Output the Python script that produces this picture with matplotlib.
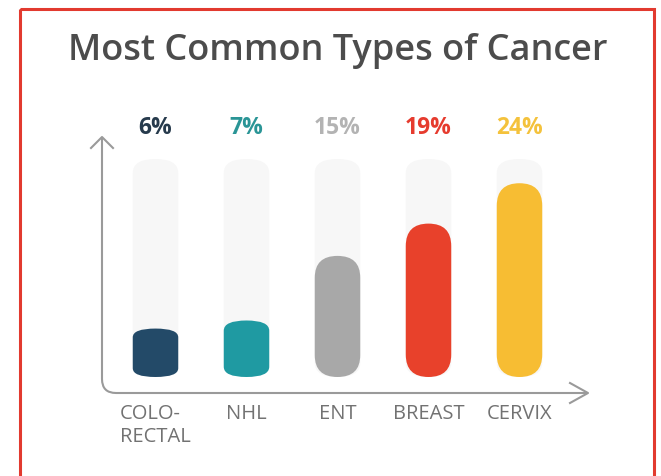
import matplotlib.pyplot as plt
from matplotlib.patches import FancyBboxPatch, Rectangle, PathPatch
from matplotlib.path import Path

categories = ["COLO-\nRECTAL", "NHL", "ENT", "BREAST", "CERVIX"]
values = [6, 7, 15, 19, 24]
labels = ["6%", "7%", "15%", "19%", "24%"]
track_max = 27

bar_colors = ["#234a68", "#1f9aa2", "#a8a8a8", "#e8412b", "#f7bd33"]
label_colors = ["#263a4c", "#2a9596", "#b3b3b3", "#e63b2e", "#f4c23c"]

W, H = 661, 477
fig = plt.figure(figsize=(W / 100, H / 100), dpi=100)
fig.patch.set_facecolor("white")

# overlay in pixel coordinates for frame, title and axis arrows
deco = fig.add_axes([0, 0, 1, 1])
deco.set_xlim(0, W)
deco.set_ylim(H, 0)
deco.axis("off")

deco.add_patch(Rectangle((20, 10), 634, 500, fill=False, ec="#e23a2f", lw=2.2))
deco.text(338, 51, "Most Common Types of Cancer", ha="center", va="center",
          fontsize=26, color="#4c4c4c", family="Open Sans", fontweight="semibold")

# y axis with rounded corner into the x axis
r = 14
verts = [(102, 138), (102, 394 - r), (102, 394), (102 + r, 394), (587, 394)]
codes = [Path.MOVETO, Path.LINETO, Path.CURVE3, Path.CURVE3, Path.LINETO]
deco.add_patch(PathPatch(Path(verts, codes), fill=False, ec="#9a9a9a", lw=1.5))
deco.plot([91, 102, 113], [149, 138, 149], color="#9a9a9a", lw=1.5)
deco.plot([570, 588, 570], [384, 394, 404], color="#9a9a9a", lw=1.5)

# bar axes: x in category index, y in percent
ax = fig.add_axes([110 / W, (H - 378) / H, 455 / W, 218 / H])
ax.set_xlim(-0.5, 4.5)
ax.set_ylim(0, track_max)
ax.axis("off")

px_y = 218 / track_max  # pixels per percent
bw = 0.5
rx = bw / 2

for i, (v, c, lc, lab, cat) in enumerate(zip(values, bar_colors, label_colors, labels, categories)):
    # faint background track
    ax.add_patch(FancyBboxPatch((i - bw / 2, 0), bw, track_max,
                                boxstyle=f"round,pad=0,rounding_size={rx}",
                                mutation_aspect=(14 / px_y) / rx,
                                fc="#f7f7f7", ec="none"))
    h_px = v * px_y
    ry = min(22.5, 0.18 * h_px) / px_y
    ax.add_patch(FancyBboxPatch((i - bw / 2, 0), bw, v,
                                boxstyle=f"round,pad=0,rounding_size={rx}",
                                mutation_aspect=ry / rx,
                                fc=c, ec="none"))
    ax.annotate(lab, (i, track_max), xytext=(0, 23), textcoords="offset points",
                ha="center", va="center", fontsize=16.5, fontweight="bold",
                color=lc, family="Open Sans", annotation_clip=False)
    ax.annotate(cat, (i, 0), xytext=(0, -19), textcoords="offset points",
                ha="center", va="top", multialignment="left", fontsize=14.5,
                color="#727272", family="Open Sans", linespacing=1.15,
                annotation_clip=False)

fig.savefig("out.png", dpi=100)
